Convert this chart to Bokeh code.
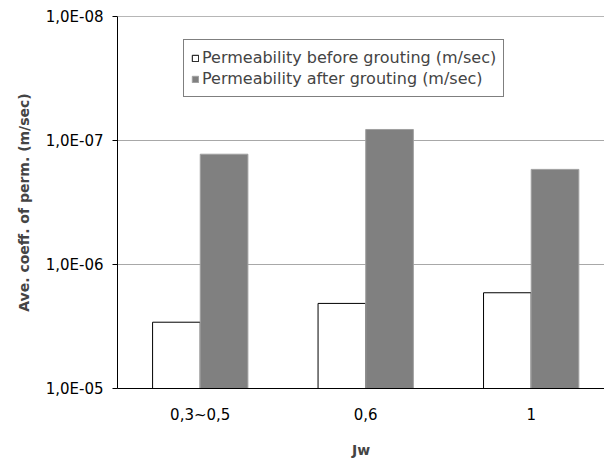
import numpy as np
from bokeh.plotting import figure
from bokeh.models import (Range1d, FixedTicker, CustomJSTickFormatter, Legend,
                          LegendItem, Span, ColumnDataSource)
from bokeh.embed import file_html
from bokeh.resources import INLINE

categories = ["0,3~0,5", "0,6", "1"]
before_grouting = [2.92e-6, 2.06e-6, 1.69e-6]
after_grouting = [1.29e-7, 8.15e-8, 1.71e-7]
y_ticks = [1e-8, 1e-7, 1e-6, 1e-5]

FONT = "DejaVu Sans"

centers = np.arange(len(categories)) + 0.5
bw = 0.288

src = ColumnDataSource(dict(
    xb=centers - bw / 2, xa=centers + bw / 2,
    before=before_grouting, after=after_grouting,
    base=[1e-5] * len(categories)))

p = figure(width=604, height=460, y_axis_type="log",
           x_range=Range1d(0, 2.943), y_range=Range1d(1e-5, 1e-8),
           output_backend="svg", toolbar_location=None,
           min_border_left=117, min_border_right=0, min_border_top=16,
           min_border_bottom=72)
p.outline_line_color = None
p.background_fill_color = "white"

rb = p.vbar(x="xb", width=bw, bottom="base", top="before", source=src,
            fill_color="white", line_color="black", line_width=1)
ra = p.vbar(x="xa", width=bw, bottom="base", top="after", source=src,
            fill_color="#808080", line_color="#a0a0a0", line_width=1)

# y axis
p.yaxis.ticker = FixedTicker(ticks=y_ticks, minor_ticks=[])
p.yaxis.formatter = CustomJSTickFormatter(code="""
    const e = Math.round(Math.log10(tick));
    const a = Math.abs(e);
    return "1,0E-" + (a < 10 ? "0" + a : a);
""")
p.yaxis.axis_label = "Ave. coeff. of perm. (m/sec)"
p.yaxis.axis_label_text_font = FONT
p.yaxis.axis_label_text_font_style = "bold"
p.yaxis.axis_label_text_font_size = "14px"
p.yaxis.axis_label_standoff = 11
p.yaxis.major_label_text_font = FONT
p.yaxis.major_label_text_font_size = "15px"
p.yaxis.major_label_text_color = "black"
p.yaxis.major_label_standoff = 9
p.yaxis.major_tick_out = 5
p.yaxis.major_tick_in = 0
p.yaxis.minor_tick_line_color = None
p.yaxis.axis_line_color = "black"
p.yaxis.major_tick_line_color = "black"

# x axis
p.xaxis.ticker = FixedTicker(ticks=list(centers))
p.xaxis.major_label_overrides = {float(c): lab for c, lab in zip(centers, categories)}
p.xaxis.major_label_text_font = FONT
p.xaxis.major_label_text_font_size = "15px"
p.xaxis.major_label_text_color = "black"
p.xaxis.major_tick_line_color = None
p.xaxis.major_tick_out = 0
p.xaxis.major_tick_in = 0
p.xaxis.minor_tick_line_color = None
p.xaxis.major_label_standoff = 17
p.xaxis.axis_line_color = "black"
p.xaxis.axis_label = "Jw"
p.xaxis.axis_label_text_font = FONT
p.xaxis.axis_label_text_font_style = "bold"
p.xaxis.axis_label_text_font_size = "14px"
p.xaxis.axis_label_standoff = 15

p.xgrid.grid_line_color = None
p.ygrid.grid_line_color = "#a8a8a8"
p.ygrid.ticker = FixedTicker(ticks=y_ticks[1:3])

top_line = Span(location=1e-8, dimension="width", line_color="#6f6f6f", line_width=1)
p.add_layout(top_line)

legend = Legend(items=[
    LegendItem(label="Permeability before grouting (m/sec)", renderers=[rb]),
    LegendItem(label="Permeability after grouting (m/sec)", renderers=[ra]),
], location=(66, 291))
legend.label_text_font = FONT
legend.label_text_font_size = "16px"
legend.glyph_width = 8
legend.glyph_height = 8
legend.label_height = 21
legend.label_standoff = 3
legend.padding = 7
legend.spacing = 0
legend.margin = 0
legend.border_line_color = "black"
legend.border_line_width = 1
legend.background_fill_alpha = 1
p.add_layout(legend, "center")

open("out.html", "w").write(file_html(p, INLINE))
